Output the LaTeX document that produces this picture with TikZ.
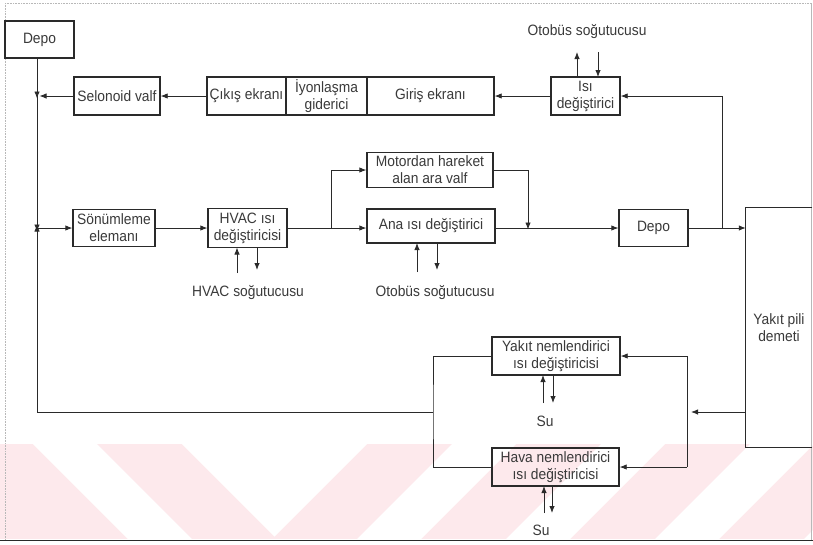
\documentclass[tikz,border=0pt]{standalone}
\usepackage{fontspec}
\setmainfont{Liberation Sans}[FakeStretch=0.92]
\usetikzlibrary{arrows.meta}

\definecolor{ink}{HTML}{2A2A2A}
\definecolor{txt}{HTML}{3A3A3A}
\definecolor{frame}{HTML}{B8B8B8}
\definecolor{wmark}{HTML}{FDE9EC}

\tikzset{
  blk/.style={draw=ink, line width=1.3pt, text=txt, align=center, inner sep=0pt,
              font=\fontsize{15}{17}\selectfont},
  lbl/.style={text=txt, inner sep=0pt, font=\fontsize{15}{17}\selectfont},
  wire/.style={draw=ink, line width=0.8pt},
  flow/.style={wire, -{Latex[length=7pt,width=5.4pt]}}
}

\begin{document}
\begin{tikzpicture}[x=1pt,y=-1pt]
\useasboundingbox (0,0) rectangle (813,544);
\fill[white] (0,0) rectangle (813,544);

% faint striped band along the foot of the page
\begin{scope}
  \clip (0,444) rectangle (813,539);
  \fill[wmark] (0,444) rectangle (813,539);
  \fill[white] (33,444) -- (97,444) -- (192,539) -- (128,539) -- cycle;
  \fill[white] (182,444) -- (367,444) -- (274.5,536.5) -- cycle;
  \foreach \s in {452,601,750,899}
    \fill[white] (\s,444) -- (\s+64,444) -- (\s-31,539) -- (\s-95,539) -- cycle;
\end{scope}

% page frame
\draw[frame, line width=0.6pt, densely dotted] (5,3) -- (811.5,3);
\draw[frame, line width=0.6pt, densely dotted] (5,3) -- (5,540);
\draw[frame, line width=0.6pt] (811.5,3) -- (811.5,540);
\draw[ink, line width=1.6pt] (0,540.5) -- (813,540.5);

% ---------- blocks ----------
\node[blk, minimum width=69pt, minimum height=37pt] (depoA) at (39.5,39.5) {Depo};
\node[blk, minimum width=86pt, minimum height=38pt] (sel)   at (117,96) {Selonoid valf};
\node[blk, minimum width=79pt, minimum height=38pt] (cik)   at (246.5,96) {Çıkış ekranı};
\node[blk, minimum width=81pt, minimum height=38pt] (iyon)  at (326.5,96) {İyonlaşma\\giderici};
\node[blk, minimum width=127pt, minimum height=38pt] (giris) at (430.5,96) {Giriş ekranı};
\node[blk, minimum width=69pt, minimum height=38pt] (isi)   at (585.5,96) {Isı\\değiştirici};

\node[blk, minimum width=82pt, minimum height=37pt] (son)   at (114,228) {Sönümleme\\elemanı};
\node[blk, minimum width=79pt, minimum height=39pt] (hvac)  at (247.5,228) {HVAC ısı\\değiştiricisi};
\node[blk, minimum width=126pt, minimum height=35pt] (mot)  at (430,170) {Motordan hareket\\alan ara valf};
\node[blk, minimum width=128pt, minimum height=34pt] (ana)  at (431,226) {Ana ısı değiştirici};
\node[blk, minimum width=69pt, minimum height=37pt] (depoB) at (653.5,228) {Depo};

\node[lbl, minimum width=66pt, minimum height=239pt, align=center] (stack) at (779,327.5) {Yakıt pili\\demeti};
\draw[ink, line width=1.3pt] (stack.north east) -- (stack.north west) -- (stack.south west) -- (stack.south east);

\node[blk, minimum width=128pt, minimum height=38pt] (yak)  at (556,356) {Yakıt nemlendirici\\ısı değiştiricisi};
\node[blk, minimum width=127pt, minimum height=38pt] (hava) at (555.5,467) {Hava nemlendirici\\ısı değiştiricisi};

% ---------- labels ----------
\node[lbl] (cool1) at (587,32)  {Otobüs soğutucusu};
\node[lbl] (cool2) at (248,293) {HVAC soğutucusu};
\node[lbl] (cool3) at (435,293) {Otobüs soğutucusu};
\node[lbl] (su1)   at (545,421) {Su};
\node[lbl] (su2)   at (541,530) {Su};

% ---------- junction points ----------
\coordinate (J1) at (37,96);
\coordinate (J2) at (37,228);
\coordinate (B1) at (331,228);
\coordinate (B2) at (528,228);
\coordinate (B3) at (722,228);
\coordinate (R1) at (687,412);
\coordinate (L1) at (433,412);
\coordinate (L0) at (37,412);

% ---------- main loop ----------
\draw[flow] (depoA.south -| J1) -- ([yshift=-2.5pt]J1);
\draw[flow] (sel.west) -- ([xshift=2.5pt]J1);
\draw[wire] (J1) -- (J2);
\draw[flow] (J1) -- ([yshift=-3.5pt]J2);
\draw[flow] (cik.west) -- (sel.east);
\draw[flow] (isi.west) -- (giris.east);
\draw[flow] (B3) |- (isi.east);

\draw[flow] (J2) -- (son.west);
\draw[flow] (son.east) -- (hvac.west);
\draw[wire] (hvac.east) -- (B1);
\draw[flow] (B1) -- (B1 -| ana.west);
\draw[flow] (B1) |- (mot.west);
\draw[flow] (mot.east) -| ([yshift=-1.5pt]B2);
\draw[flow] (B1 -| ana.east) -- (depoB.west);
\draw[flow] (depoB.east) -- (B3 -| stack.west);

% humidifier branch
\draw[flow] (stack.west |- R1) -- ([xshift=4pt]R1);
\draw[wire] (yak.east -| R1) -- (hava.east -| R1);
\draw[flow] (yak.east -| R1) -- (yak.east);
\draw[flow] (hava.east -| R1) -- (hava.east);
\draw[wire] (yak.west) -| (L1) |- (hava.west);
\draw[wire] (L1) -- (L0);
\draw[flow] (L0) -- ([yshift=3.5pt]J2);

% ---------- coolant / water ports ----------
\draw[flow] (577,77) -- (577,52);
\draw[flow] (598,52) -- (598,77);
\draw[flow] (237,273) -- (237,247.5);
\draw[flow] (257,247.5) -- (257,270);
\draw[flow] (417,272) -- (417,243);
\draw[flow] (437,243) -- (437,270);
\draw[flow] (543,403) -- (543,375);
\draw[flow] (553,375) -- (553,403);
\draw[flow] (544,513) -- (544,486);
\draw[flow] (552,486) -- (552,513);
\end{tikzpicture}
\end{document}
